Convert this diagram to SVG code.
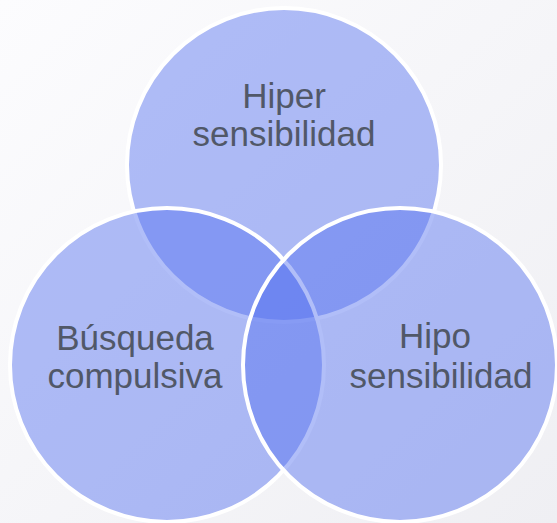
<svg xmlns="http://www.w3.org/2000/svg" width="557" height="523" viewBox="0 0 557 523">
  <defs>
    <linearGradient id="bg" x1="0" y1="0" x2="1" y2="1">
      <stop offset="0" stop-color="#fcfcfe"/>
      <stop offset="1" stop-color="#efeff3"/>
    </linearGradient>
  </defs>
  <style>
    .c { fill: #5471ef; fill-opacity: 0.46; stroke: #ffffff; stroke-width: 4; }
    .t { font-family: "Liberation Sans", Arial, sans-serif; font-size: 35px; fill: #515868; text-anchor: middle; }
  </style>
  <rect x="0" y="0" width="557" height="523" fill="url(#bg)"/>
  <g id="node-hiper">
    <circle class="c" cx="284" cy="165" r="157"/>
  </g>
  <g id="node-busqueda">
    <circle class="c" cx="167" cy="365" r="157"/>
  </g>
  <g id="node-hipo">
    <circle class="c" cx="400" cy="365" r="157"/>
  </g>
  <g id="labels">
    <text class="t" x="284" y="108">Hiper</text>
    <text class="t" x="284" y="146">sensibilidad</text>
    <text class="t" x="135" y="350">Búsqueda</text>
    <text class="t" x="135" y="388">compulsiva</text>
    <text class="t" x="435" y="348">Hipo</text>
    <text class="t" x="441" y="388">sensibilidad</text>
  </g>
  <g id="connectors"></g>
</svg>
